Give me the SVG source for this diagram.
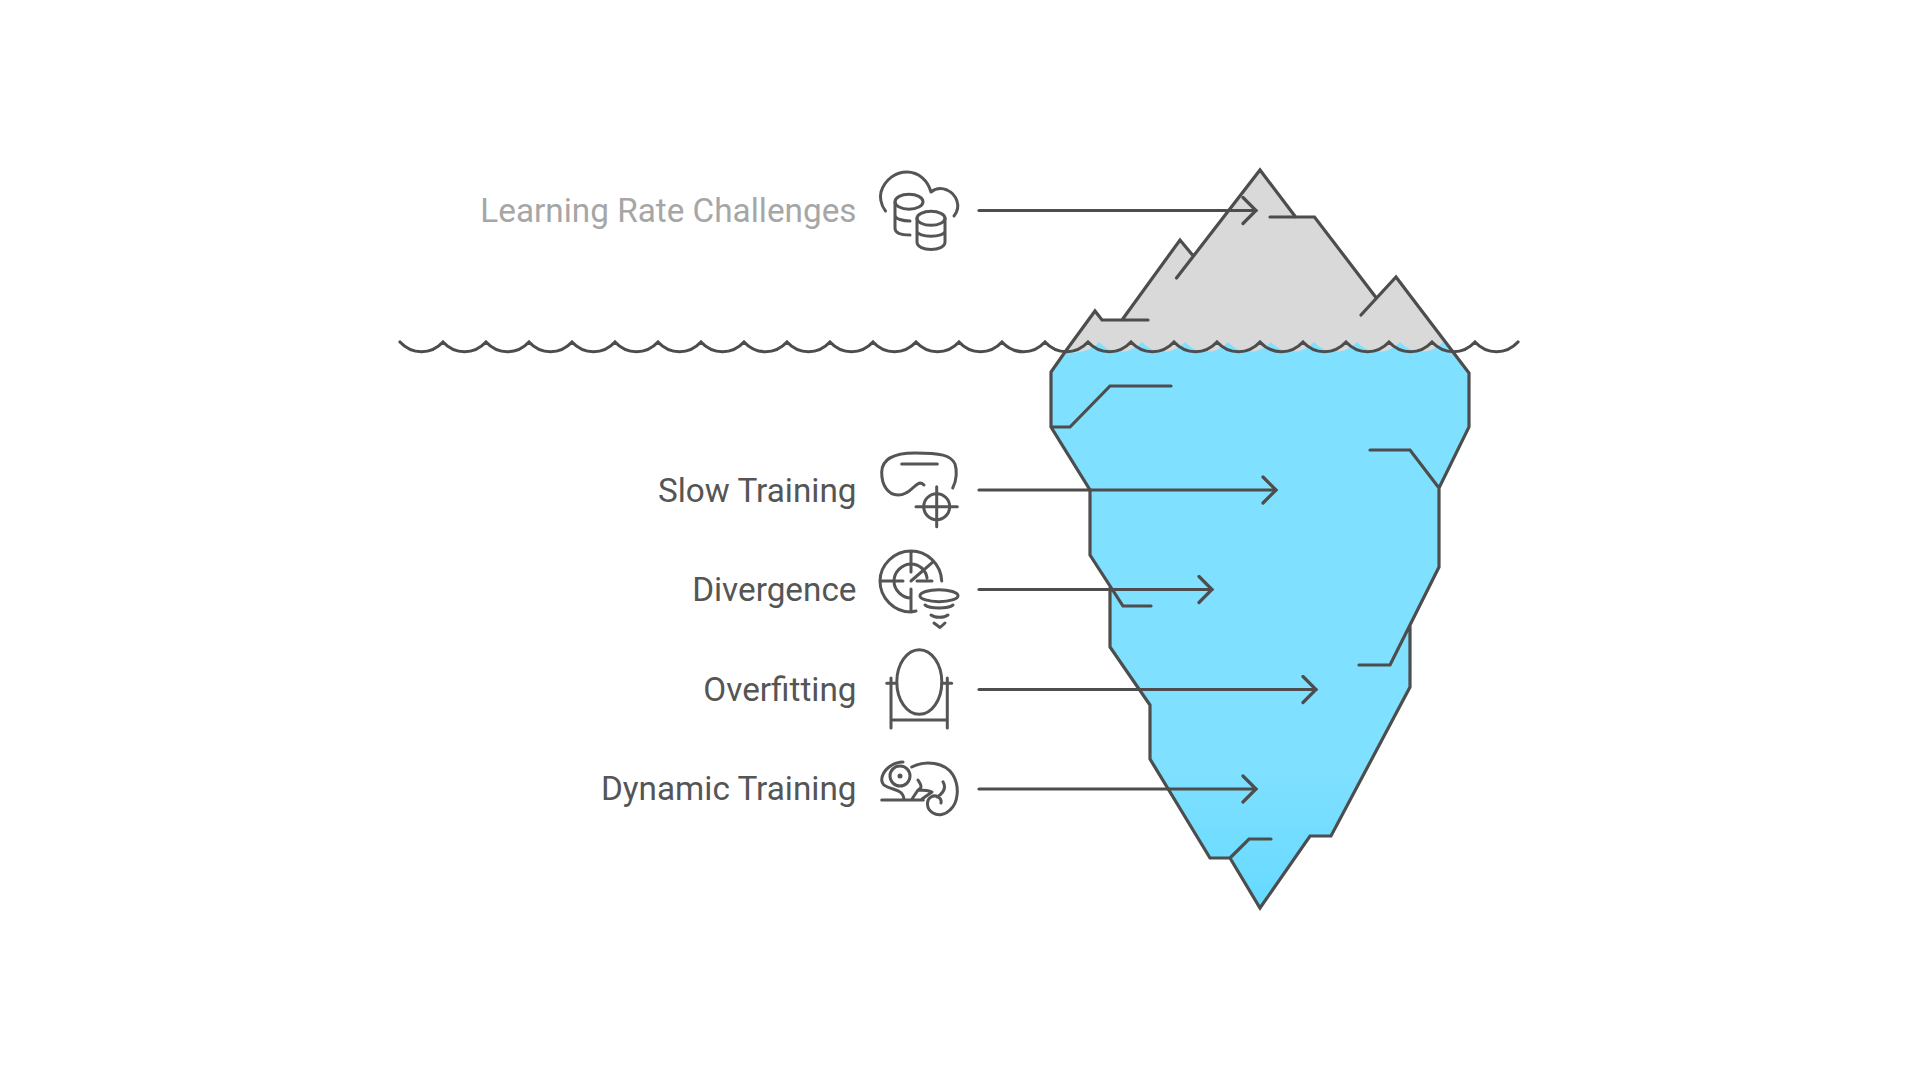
<svg xmlns="http://www.w3.org/2000/svg" width="1920" height="1080" viewBox="0 0 1920 1080">
<style>
.l{fill:none;stroke:#4D4D4D;stroke-width:3.2;stroke-linecap:round;stroke-linejoin:miter}
.i{fill:none;stroke:#555;stroke-width:3;stroke-linecap:round;stroke-linejoin:round}
.t{font-family:Roboto,"Liberation Sans",sans-serif;font-size:33.3px;fill:#555;text-anchor:end}
</style>
<defs>
<linearGradient id="b" x1="0" y1="0" x2="0" y2="1"><stop offset="0.75" stop-color="#80E0FF"/><stop offset="1" stop-color="#66DAFF"/></linearGradient>
<marker id="a" markerUnits="userSpaceOnUse" markerWidth="20" markerHeight="32" refX="15" refY="15" orient="auto" viewBox="0 0 20 32"><path d="M2 2L15 15L2 28" fill="none" stroke="#4D4D4D" stroke-width="3.2" stroke-linecap="round"/></marker>
</defs>
<rect width="1920" height="1080" fill="#fff"/>
<g id="iceberg">
<path fill="#D9D9D9" d="M1065 352L1095 311L1102 320H1122L1180 240L1192.5 255L1260 170L1295.6 217H1314.5L1375.6 297L1396 277L1453 352Z"/>
<path fill="url(#b)" d="M1065 352C1075 353 1090 353 1099 342C1111 355 1130 355 1142 342C1154 355 1173 355 1185 342C1197 355 1216 355 1228 342C1240 355 1259 355 1271 342C1283 355 1302 355 1314 342C1326 355 1345 355 1357 342C1369 355 1388 355 1400 342C1412 355 1431 355 1443 342L1453 352L1469 373V427L1439 488V567L1410 625V687L1331 836H1310L1260 908L1230 858H1210L1150 759V705L1110 647V588L1090 555V490L1051 427V372Z"/>
<path class="l" d="M1065 352L1095 311L1102 320H1148M1122 320L1180 240L1192.5 255M1176.5 278L1260 170L1295.6 217M1270 217H1314.5L1375.6 297M1361 315L1396 277L1453 352L1469 373V427L1439 488L1410 450H1370M1439 488V567L1390 665H1359M1410 625V687L1331 836H1310L1260 908L1230 858H1210L1150 759V705L1110 647V588M1230 858L1249 839H1271M1151 606H1123L1090 555V490L1051 427V372L1065 352M1051 427H1070L1110 386H1171"/>
</g>
<g id="water"><path class="l" d="M400 342c12 13 31 13 43 0c12 13 31 13 43 0c12 13 31 13 43 0c12 13 31 13 43 0c12 13 31 13 43 0c12 13 31 13 43 0c12 13 31 13 43 0c12 13 31 13 43 0c12 13 31 13 43 0c12 13 31 13 43 0c12 13 31 13 43 0c12 13 31 13 43 0c12 13 31 13 43 0c12 13 31 13 43 0c12 13 31 13 43 0c12 13 31 13 43 0c12 13 31 13 43 0c12 13 31 13 43 0c12 13 31 13 43 0c12 13 31 13 43 0c12 13 31 13 43 0c12 13 31 13 43 0c12 13 31 13 43 0c12 13 31 13 43 0c12 13 31 13 43 0c12 13 31 13 43 0"/></g>
<g id="connectors">
<path class="l" marker-end="url(#a)" d="M979 210.5H1256"/>
<path class="l" marker-end="url(#a)" d="M979 490H1276"/>
<path class="l" marker-end="url(#a)" d="M979 589.5H1212"/>
<path class="l" marker-end="url(#a)" d="M979 689.5H1316"/>
<path class="l" marker-end="url(#a)" d="M979 789H1256"/>
</g>
<g id="n1"><text class="t" x="856.5" y="222" style="fill:#A6A6A6">Learning Rate Challenges</text>
<path class="i" d="M885.5 211C880 204 880 196 881 192C885 179 896 172 907 172C919 172 928 181 931 192C936 188 942 188 947 190C956 194 962 206 954 216"/>
<ellipse class="i" cx="909" cy="201.7" rx="14" ry="7.5"/>
<path class="i" d="M895 202V228C895 234 903 235 910 235M895 215C895 219 903 221 910 221"/>
<ellipse class="i" cx="931" cy="218.3" rx="14" ry="7"/>
<path class="i" d="M917 218V242C917 252 945 252 945 242V218M917 231C917 238 945 238 945 231"/></g>
<g id="n2"><text class="t" x="856.5" y="501.5">Slow Training</text>
<path class="i" d="M952.7 488C957 480 957 470 955 464C951 455 940 453 915 453C892 453 882 460 881.7 472C881.5 485 888 495 898 495C910 495 914 484 920 483C922 483 923 484 924 485M901.7 464H937.3"/>
<circle class="i" cx="936.7" cy="506.7" r="13"/>
<path class="i" d="M916 506.7H957.3M936.7 486.7V526.7"/></g>
<g id="n3"><text class="t" x="856.5" y="600.5">Divergence</text>
<path class="i" d="M941.7 581C941 564 927 551 911 551C894 551 880 565 880 581C880 598 894 612 911 612L916 611M927 578C926 570 919 564 911 564C902 564 894 572 894 581C894 590 902 598 911 598M911 581L933.3 561.7M881 581H903M917 581H932M911 551V572M911 589V611"/>
<ellipse class="i" cx="939" cy="595.7" rx="19" ry="6"/>
<path class="i" d="M925 605C930 609 948 609 953 605M931 615C935 618 944 618 948 615M934 623L940 627.5L945 623"/></g>
<g id="n4"><text class="t" x="856.5" y="700.5">Overfitting</text>
<ellipse class="i" cx="919.3" cy="682" rx="22.5" ry="32.3"/>
<path class="i" d="M891 678V728M947.3 678V728M891 720H947.3M886.7 683.3H896.7M941.7 683.3H951.7"/></g>
<g id="n5"><text class="t" x="856.5" y="800">Dynamic Training</text>
<circle class="i" cx="900" cy="776" r="10"/><circle cx="900" cy="776" r="2.5" fill="#555"/>
<path class="i" d="M881.7 800H923.3M903 762C893 762 882 770 881.7 780C882 785 886 787 893 789C899 791 903 792 904 799M911.7 767C925 760 945 762 953 775C960 787 958 803 950 810C945 815 938 816 933 813C926 809 926 800 931 797C936 794 942 798 941 803M943 781.7C946 787 945 792 937 797M912 799L918 790C922 788 922 786 918 780M918 790C924 790 928 790 932 792L922 799"/></g>
</svg>
